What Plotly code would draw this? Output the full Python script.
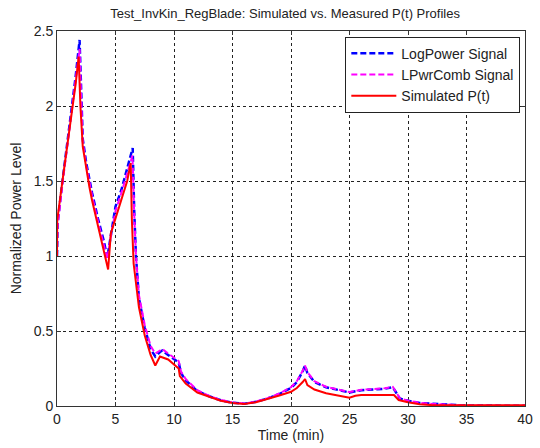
import plotly.graph_objects as go

# LogPower Signal (blue)
t_log = [0, 0.05, 0.5, 1.0, 1.6, 1.93, 2.05, 2.2, 2.5, 3.0, 3.5, 4.0, 4.3, 4.6, 5.0, 5.5, 6.0, 6.47,
         6.6, 6.75, 7.0, 7.5, 8.0, 8.4, 8.8, 9.0, 9.5, 10.0, 10.4, 10.6, 11.0, 12.0, 13.0, 14.0, 15.0,
         16.0, 17.0, 18.0, 19.0, 20.0, 20.5, 21.0, 21.2, 21.4, 22.0, 23.0, 24.0, 25.0, 26.0, 27.0, 28.0,
         28.7, 29.3, 30.0, 31.0, 32.0, 33.5, 35.0, 40.0]
p_log = [1.0, 1.22, 1.52, 1.82, 2.2, 2.44, 2.1, 1.78, 1.62, 1.42, 1.25, 1.1, 0.99, 1.15, 1.33, 1.44, 1.58, 1.72,
         1.3, 1.0, 0.72, 0.52, 0.38, 0.33, 0.36, 0.37, 0.34, 0.31, 0.29, 0.22, 0.17, 0.1, 0.065, 0.038, 0.022,
         0.015, 0.028, 0.05, 0.08, 0.12, 0.16, 0.23, 0.27, 0.22, 0.16, 0.125, 0.105, 0.09, 0.105, 0.11, 0.115,
         0.125, 0.05, 0.035, 0.02, 0.015, 0.008, 0.003, 0.002]

# LPwrComb Signal (magenta)
t_comb = [0, 0.05, 0.5, 1.0, 1.6, 1.93, 2.05, 2.2, 2.5, 3.0, 3.5, 4.0, 4.3, 4.6, 5.0, 5.5, 6.0, 6.45,
          6.6, 6.75, 7.0, 7.5, 8.0, 8.4, 8.8, 9.0, 9.5, 10.0, 10.4, 10.6, 11.0, 12.0, 13.0, 14.0, 15.0,
          16.0, 17.0, 18.0, 19.0, 20.0, 20.5, 21.0, 21.2, 21.4, 22.0, 23.0, 24.0, 25.0, 26.0, 27.0, 28.0,
          28.7, 29.3, 30.0, 31.0, 32.0, 33.5, 35.0, 40.0]
p_comb = [1.0, 1.2, 1.5, 1.8, 2.17, 2.38, 2.08, 1.76, 1.6, 1.4, 1.23, 1.08, 0.98, 1.13, 1.3, 1.42, 1.55, 1.67,
          1.28, 1.0, 0.74, 0.54, 0.4, 0.35, 0.37, 0.38, 0.35, 0.32, 0.3, 0.23, 0.18, 0.105, 0.068, 0.04, 0.024,
          0.016, 0.03, 0.052, 0.083, 0.125, 0.165, 0.235, 0.27, 0.225, 0.165, 0.128, 0.108, 0.093, 0.108, 0.113,
          0.118, 0.128, 0.052, 0.036, 0.021, 0.015, 0.008, 0.003, 0.002]

# Simulated P(t) (red)
t_sim = [0, 0.02, 0.5, 1.0, 1.6, 1.85, 2.0, 2.2, 2.5, 2.77, 3.0, 3.5, 3.87, 4.37, 4.6, 5.0, 5.5, 6.0, 6.3,
         6.4, 6.55, 7.0, 7.5, 8.0, 8.4, 8.8, 9.5, 10.0, 10.4, 10.5, 11.0, 12.0, 13.0, 14.0, 15.0, 16.0,
         17.0, 18.0, 19.0, 20.0, 20.5, 21.0, 21.2, 21.4, 22.0, 23.0, 24.0, 25.0, 25.5, 26.0, 28.8, 29.2,
         30.0, 31.0, 32.0, 40.0]
p_sim = [1.0, 1.24, 1.52, 1.8, 2.15, 2.33, 2.0, 1.73, 1.58, 1.46, 1.37, 1.2, 1.06, 0.91, 1.15, 1.25, 1.37, 1.5, 1.62,
         1.24, 0.95, 0.66, 0.47, 0.34, 0.27, 0.33, 0.31, 0.28, 0.25, 0.2, 0.15, 0.09, 0.06, 0.035, 0.02, 0.013,
         0.025, 0.045, 0.07, 0.095, 0.12, 0.16, 0.18, 0.14, 0.11, 0.085, 0.068, 0.055, 0.068, 0.073, 0.073, 0.04,
         0.025, 0.012, 0.006, 0.005]

x_ticks = [0, 5, 10, 15, 20, 25, 30, 35, 40]
y_ticks = [0, 0.5, 1, 1.5, 2, 2.5]
y_tick_labels = ["0", "0.5", "1", "1.5", "2", "2.5"]

fig = go.Figure()
fig.add_trace(go.Scatter(x=t_log, y=p_log, mode="lines", name="LogPower Signal",
                         line=dict(color="#0000FF", width=2.5, dash="6px,3px")))
fig.add_trace(go.Scatter(x=t_comb, y=p_comb, mode="lines", name="LPwrComb Signal",
                         line=dict(color="#FF00FF", width=2, dash="6px,3px")))
fig.add_trace(go.Scatter(x=t_sim, y=p_sim, mode="lines", name="Simulated P(t)",
                         line=dict(color="#FF0000", width=2)))

font = "Liberation Sans, Arial, sans-serif"
txt = "#222"
axis_common = dict(showline=True, linecolor="#333", linewidth=1, mirror="allticks",
                   ticks="inside", ticklen=4, tickcolor="#333",
                   showgrid=True, gridcolor="#222", gridwidth=1, griddash="3px,3px",
                   zeroline=False, ticklabeloverflow="allow",
                   tickfont=dict(family=font, size=14, color=txt))

fig.update_layout(
    width=540, height=448,
    margin=dict(l=57, r=7, t=31, b=42),
    paper_bgcolor="white", plot_bgcolor="white",
    title=dict(text="Test_InvKin_RegBlade: Simulated vs. Measured P(t) Profiles",
               x=0.528, xanchor="center", y=0.97, yanchor="middle",
               font=dict(family=font, size=13, color=txt)),
    xaxis=dict(range=[0, 40], tickvals=x_ticks,
               title=dict(text="Time (min)", font=dict(family=font, size=14, color=txt), standoff=2),
               **axis_common),
    yaxis=dict(range=[0, 2.5], tickvals=y_ticks, ticktext=y_tick_labels,
               title=dict(text="Normalized Power Level", font=dict(family=font, size=14, color=txt), standoff=8),
               **axis_common),
    legend=dict(x=0.99, y=0.985, xanchor="right", yanchor="top",
                bgcolor="white", bordercolor="#222", borderwidth=1,
                font=dict(family=font, size=14, color=txt),
                itemwidth=45, tracegroupgap=0),
    showlegend=True,
)

fig.write_html("out.html")
